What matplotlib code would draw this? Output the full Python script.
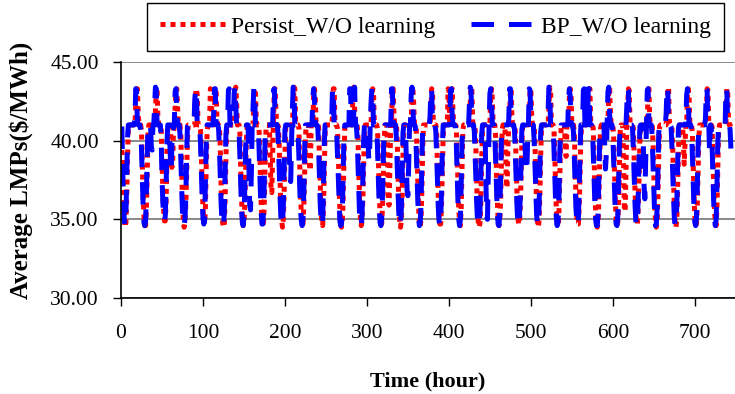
import matplotlib
matplotlib.use("Agg")
import matplotlib.pyplot as plt
import numpy as np

# hourly average LMPs ($/MWh), one row per day (24 hours), 31 days
bp_wo_learning = [
    [40.9, 38.4, 36.3, 34.9, 34.6, 35.3, 37.6, 40.2, 41.0, 41.0, 41.0, 41.0, 41.0, 41.0, 41.0, 41.0, 41.4, 43.3, 43.2, 41.1, 41.0, 41.0, 41.0, 40.7],
    [39.5, 37.6, 35.8, 34.8, 34.6, 34.9, 36.6, 39.1, 41.0, 41.0, 41.0, 41.0, 39.6, 39.4, 41.0, 41.0, 42.2, 43.4, 43.3, 41.0, 41.0, 41.0, 41.0, 41.0],
    [40.1, 37.7, 36.1, 35.3, 34.9, 35.2, 37.0, 39.7, 41.0, 41.0, 41.0, 39.2, 38.0, 39.5, 41.0, 40.8, 41.0, 43.1, 43.3, 41.9, 41.0, 41.0, 41.0, 40.4],
    [38.9, 37.0, 35.5, 34.7, 34.6, 35.0, 36.3, 38.8, 40.9, 41.0, 41.0, 41.0, 41.0, 41.0, 41.0, 41.0, 41.0, 42.6, 43.3, 43.1, 41.0, 41.0, 41.0, 40.9],
    [39.8, 38.0, 36.4, 35.1, 34.7, 34.9, 37.3, 39.9, 41.0, 41.0, 41.0, 41.0, 41.0, 41.0, 41.0, 41.0, 41.6, 43.3, 43.3, 41.2, 41.0, 41.0, 40.8, 39.6],
    [37.9, 36.2, 35.0, 34.6, 34.6, 35.4, 37.8, 40.4, 41.0, 41.0, 43.2, 43.3, 41.0, 41.0, 41.0, 41.0, 41.0, 43.0, 43.4, 42.3, 41.0, 41.0, 41.0, 40.6],
    [39.1, 37.3, 35.7, 34.8, 34.6, 35.1, 36.9, 39.4, 41.0, 41.0, 41.0, 38.3, 35.9, 35.6, 37.9, 41.0, 42.0, 43.3, 43.2, 41.0, 41.0, 41.0, 41.0, 40.2],
    [38.5, 36.8, 35.4, 34.7, 34.7, 35.6, 38.1, 40.6, 41.0, 41.0, 41.0, 41.0, 41.0, 41.0, 41.0, 41.0, 41.0, 43.2, 43.3, 41.5, 41.0, 41.0, 40.9, 39.9],
    [38.2, 36.5, 35.2, 34.6, 34.8, 35.8, 38.4, 40.7, 41.0, 41.0, 41.0, 41.0, 40.2, 37.6, 37.4, 39.8, 41.8, 43.4, 43.3, 41.0, 41.0, 41.0, 41.0, 40.5],
    [39.0, 37.1, 35.6, 34.9, 34.6, 35.0, 36.7, 39.3, 41.0, 41.0, 41.0, 41.0, 41.0, 41.0, 41.0, 41.0, 41.0, 42.8, 43.3, 42.6, 41.0, 41.0, 41.0, 40.9],
    [39.7, 37.9, 36.0, 35.0, 34.6, 34.9, 37.1, 39.8, 41.0, 41.0, 41.0, 41.0, 41.0, 41.0, 41.0, 41.0, 41.2, 43.3, 43.3, 41.0, 41.0, 41.0, 40.7, 39.2],
    [37.6, 36.0, 34.9, 34.6, 34.7, 35.5, 37.9, 40.3, 41.0, 41.0, 41.0, 41.0, 41.0, 41.0, 43.3, 43.3, 41.0, 41.0, 41.0, 41.8, 43.4, 41.0, 41.0, 40.3],
    [38.7, 36.9, 35.3, 34.7, 34.6, 35.2, 37.4, 40.0, 41.0, 41.0, 41.0, 41.0, 41.0, 39.0, 38.7, 41.0, 42.4, 43.3, 43.1, 41.0, 41.0, 41.0, 41.0, 40.8],
    [39.4, 37.5, 35.9, 34.8, 34.6, 35.0, 36.5, 38.9, 40.8, 41.0, 41.0, 41.0, 41.0, 41.0, 41.0, 41.0, 41.0, 43.3, 43.3, 41.3, 41.0, 41.0, 41.0, 40.1],
    [38.3, 36.6, 35.3, 34.6, 34.7, 35.7, 38.2, 40.5, 41.0, 41.0, 41.0, 38.9, 36.8, 36.5, 38.6, 41.0, 41.0, 42.9, 43.4, 42.2, 41.0, 41.0, 40.9, 39.7],
    [38.0, 36.3, 35.1, 34.6, 34.8, 35.9, 38.6, 40.8, 41.0, 41.0, 41.0, 41.0, 41.0, 41.0, 41.0, 41.0, 41.5, 43.3, 43.2, 41.0, 41.0, 41.0, 41.0, 40.6],
    [39.2, 37.4, 35.8, 34.9, 34.6, 35.1, 36.8, 39.5, 41.0, 41.0, 41.0, 41.0, 41.0, 41.0, 41.0, 41.0, 41.0, 43.2, 43.3, 41.6, 41.0, 41.0, 41.0, 40.9],
    [39.9, 38.1, 36.2, 35.0, 34.6, 35.0, 37.2, 39.9, 41.0, 41.0, 41.0, 41.0, 41.0, 41.0, 41.0, 41.0, 42.3, 43.4, 43.2, 41.0, 41.0, 41.0, 40.6, 39.0],
    [37.4, 35.9, 34.8, 34.6, 34.7, 35.6, 38.0, 40.4, 41.0, 41.0, 41.0, 41.0, 37.8, 35.2, 35.0, 37.6, 41.0, 43.0, 43.3, 42.4, 41.0, 41.0, 41.0, 40.4],
    [38.8, 37.0, 35.5, 34.7, 34.6, 35.3, 37.5, 40.1, 41.0, 41.0, 41.0, 41.0, 41.0, 41.0, 41.0, 41.0, 41.3, 43.3, 43.3, 41.1, 41.0, 41.0, 41.0, 40.7],
    [39.3, 37.5, 35.9, 34.8, 34.6, 35.0, 36.4, 38.7, 40.7, 41.0, 41.0, 41.0, 39.5, 38.1, 38.0, 39.9, 41.0, 43.3, 43.2, 41.4, 41.0, 41.0, 41.0, 40.0],
    [38.4, 36.7, 35.3, 34.6, 34.7, 35.8, 38.3, 40.6, 41.0, 41.0, 41.0, 41.0, 41.0, 41.0, 41.0, 41.0, 41.9, 43.4, 43.3, 41.0, 41.0, 41.0, 40.9, 39.8],
    [38.1, 36.4, 35.1, 34.6, 34.8, 35.7, 38.5, 40.7, 41.0, 41.0, 41.0, 41.0, 41.0, 41.0, 41.0, 41.0, 41.0, 42.7, 43.3, 42.8, 41.0, 41.0, 41.0, 40.5],
    [39.0, 37.2, 35.7, 34.9, 34.6, 35.1, 36.9, 39.4, 41.0, 41.0, 41.0, 43.2, 43.3, 41.0, 41.0, 41.0, 41.2, 43.3, 43.3, 41.0, 41.0, 41.0, 40.8, 39.4],
    [37.8, 36.1, 35.0, 34.6, 34.6, 35.4, 37.7, 40.2, 41.0, 41.0, 41.0, 41.0, 41.0, 39.8, 38.2, 39.1, 41.0, 43.1, 43.4, 41.7, 41.0, 41.0, 41.0, 40.3],
    [38.6, 36.8, 35.4, 34.7, 34.6, 35.2, 37.3, 39.8, 41.0, 41.0, 41.0, 41.0, 41.0, 41.0, 41.0, 41.0, 42.1, 43.3, 43.2, 41.0, 41.0, 41.0, 41.0, 40.8],
    [39.5, 37.7, 36.0, 34.9, 34.6, 34.9, 36.6, 39.0, 40.9, 41.0, 41.0, 41.0, 40.4, 37.2, 36.3, 38.8, 41.0, 43.2, 43.3, 41.2, 41.0, 41.0, 41.0, 40.2],
    [38.5, 36.7, 35.3, 34.6, 34.7, 35.7, 38.2, 40.5, 41.0, 41.0, 41.0, 41.0, 41.0, 41.0, 41.0, 41.0, 41.7, 43.4, 43.3, 41.0, 41.0, 41.0, 40.9, 39.7],
    [38.0, 36.4, 35.1, 34.6, 34.8, 35.9, 38.5, 40.8, 41.0, 41.0, 41.0, 41.0, 41.0, 41.0, 41.0, 41.0, 41.0, 42.9, 43.3, 42.5, 41.0, 41.0, 41.0, 40.6],
    [39.1, 37.3, 35.7, 34.8, 34.6, 35.1, 37.0, 39.6, 41.0, 41.0, 41.0, 41.0, 41.0, 41.0, 41.0, 41.0, 41.4, 43.3, 43.2, 41.0, 41.0, 39.3, 41.0, 40.9],
    [39.8, 37.9, 36.1, 35.0, 34.6, 35.0, 37.1, 39.8, 41.0, 41.0, 41.0, 41.0, 41.0, 41.0, 41.0, 41.0, 41.0, 43.3, 43.3, 41.3, 41.0, 41.0, 40.7, 39.5],
]

persist_wo_learning = [
    [39.4, 38.9, 37.0, 35.5, 34.5, 34.8, 36.4, 39.0, 40.8, 41.0, 41.0, 41.0, 41.0, 41.0, 41.0, 41.0, 41.0, 42.3, 43.3, 43.3, 41.7, 41.0, 41.0, 41.0],
    [40.6, 38.6, 36.5, 35.2, 34.6, 34.6, 35.7, 38.0, 40.4, 41.0, 41.0, 41.0, 41.0, 41.0, 41.0, 41.0, 41.0, 41.8, 43.3, 43.4, 41.5, 41.0, 41.0, 41.0],
    [40.9, 38.9, 36.9, 35.6, 34.9, 34.9, 36.1, 38.6, 40.7, 41.0, 41.0, 41.0, 40.1, 38.3, 38.6, 40.5, 40.9, 42.0, 43.2, 43.3, 42.2, 41.0, 41.0, 41.0],
    [40.3, 38.1, 36.2, 35.0, 34.5, 34.7, 35.9, 37.6, 40.0, 41.0, 41.0, 41.0, 41.0, 41.0, 41.0, 41.0, 41.0, 41.0, 43.0, 43.3, 42.9, 41.0, 41.0, 41.0],
    [40.7, 39.0, 37.1, 35.7, 34.8, 34.7, 35.8, 38.4, 40.5, 41.0, 41.0, 41.0, 43.3, 43.2, 41.0, 41.0, 41.0, 41.9, 43.3, 43.3, 41.4, 41.0, 41.0, 40.9],
    [39.8, 37.4, 35.8, 34.8, 34.5, 34.7, 36.2, 38.9, 40.8, 41.0, 41.0, 41.0, 41.0, 41.0, 41.0, 41.0, 41.0, 41.0, 43.2, 43.4, 42.5, 41.0, 41.0, 41.0],
    [40.5, 38.3, 36.4, 35.2, 34.6, 34.8, 35.9, 37.9, 40.1, 41.0, 41.0, 41.0, 41.0, 41.0, 41.0, 41.0, 41.0, 42.2, 43.3, 43.2, 41.3, 41.0, 41.0, 41.0],
    [40.1, 37.9, 36.0, 35.0, 34.5, 34.9, 36.4, 39.0, 40.9, 41.0, 41.0, 41.0, 41.0, 39.0, 36.9, 36.7, 39.2, 41.2, 43.3, 43.3, 41.8, 41.0, 41.0, 40.9],
    [39.7, 37.6, 35.9, 34.9, 34.5, 35.0, 36.7, 39.2, 40.9, 41.0, 41.0, 41.0, 41.0, 41.0, 41.0, 41.0, 41.0, 42.0, 43.4, 43.3, 41.2, 41.0, 41.0, 41.0],
    [40.8, 38.5, 36.6, 35.3, 34.7, 34.7, 35.8, 37.8, 40.2, 41.0, 41.0, 41.0, 41.0, 38.4, 38.1, 41.0, 41.0, 41.0, 42.9, 43.3, 42.7, 41.0, 41.0, 41.0],
    [40.9, 39.1, 37.2, 35.6, 34.8, 34.6, 35.7, 38.2, 40.5, 41.0, 41.0, 41.0, 41.0, 41.0, 41.0, 41.0, 41.0, 41.5, 43.3, 43.3, 41.2, 41.0, 41.0, 40.8],
    [39.5, 37.2, 35.6, 34.7, 34.5, 34.8, 36.3, 38.8, 40.8, 41.0, 41.0, 41.0, 41.0, 41.0, 41.0, 41.0, 41.0, 41.0, 43.2, 43.4, 42.0, 41.0, 41.0, 41.0],
    [40.4, 38.2, 36.3, 35.1, 34.6, 34.9, 36.2, 38.5, 40.6, 41.0, 41.0, 41.0, 41.0, 41.0, 41.0, 41.0, 41.0, 42.5, 43.3, 43.2, 41.1, 41.0, 41.0, 41.0],
    [40.7, 38.8, 36.8, 35.4, 34.7, 34.7, 35.8, 37.7, 39.9, 41.0, 41.0, 41.0, 39.7, 36.4, 35.9, 38.2, 41.0, 41.2, 43.3, 43.3, 41.5, 41.0, 41.0, 41.0],
    [39.9, 37.8, 35.9, 34.9, 34.5, 34.9, 36.5, 39.1, 40.9, 41.0, 41.0, 41.0, 41.0, 41.0, 41.0, 41.0, 41.0, 41.0, 43.0, 43.4, 42.4, 41.0, 41.0, 40.9],
    [39.6, 37.5, 35.8, 34.8, 34.5, 35.0, 36.8, 39.3, 41.0, 41.0, 41.0, 41.0, 41.0, 41.0, 41.0, 41.0, 41.0, 41.7, 43.3, 43.2, 41.1, 41.0, 41.0, 41.0],
    [40.6, 38.4, 36.5, 35.2, 34.7, 34.7, 35.9, 38.0, 40.3, 41.0, 41.0, 41.0, 41.0, 41.0, 43.3, 43.2, 41.0, 41.0, 43.2, 43.3, 41.8, 41.0, 41.0, 41.0],
    [40.9, 39.2, 37.3, 35.7, 34.8, 34.6, 35.8, 38.3, 40.6, 41.0, 41.0, 41.0, 41.0, 41.0, 41.0, 41.0, 41.0, 42.4, 43.4, 43.2, 41.2, 41.0, 41.0, 40.7],
    [39.3, 37.1, 35.5, 34.7, 34.5, 34.8, 36.2, 38.7, 40.7, 41.0, 41.0, 41.0, 41.0, 41.0, 41.0, 41.0, 41.0, 41.0, 42.9, 43.3, 42.6, 41.0, 41.0, 41.0],
    [40.3, 38.0, 36.2, 35.1, 34.6, 34.8, 36.0, 38.4, 40.7, 41.0, 41.0, 41.0, 40.2, 37.3, 37.0, 39.6, 41.0, 41.4, 43.3, 43.3, 41.3, 41.0, 41.0, 41.0],
    [40.6, 38.7, 36.7, 35.3, 34.7, 34.7, 35.7, 37.6, 39.8, 41.0, 41.0, 41.0, 41.0, 41.0, 41.0, 41.0, 41.0, 41.1, 43.3, 43.2, 41.6, 41.0, 41.0, 41.0],
    [39.8, 37.7, 35.9, 34.9, 34.5, 34.9, 36.6, 39.1, 40.9, 41.0, 41.0, 41.0, 41.0, 41.0, 41.0, 41.0, 41.0, 42.1, 43.4, 43.3, 41.1, 41.0, 41.0, 40.9],
    [39.5, 37.4, 35.7, 34.8, 34.5, 35.0, 36.9, 39.4, 41.0, 41.0, 41.0, 41.0, 41.0, 39.4, 39.0, 41.0, 41.0, 41.0, 42.8, 43.3, 43.0, 41.0, 41.0, 41.0],
    [40.5, 38.3, 36.4, 35.2, 34.7, 34.7, 35.9, 37.9, 40.2, 41.0, 41.0, 41.0, 41.0, 41.0, 41.0, 41.0, 41.0, 41.3, 43.3, 43.3, 41.2, 41.0, 41.0, 40.8],
    [39.2, 37.0, 35.5, 34.7, 34.5, 34.8, 36.3, 38.8, 40.8, 41.0, 41.0, 41.0, 41.0, 41.0, 41.0, 41.0, 41.0, 41.0, 43.2, 43.4, 41.9, 41.0, 41.0, 41.0],
    [40.2, 38.1, 36.2, 35.0, 34.6, 34.8, 36.1, 38.3, 40.6, 41.0, 41.0, 41.0, 38.7, 35.8, 35.5, 38.0, 41.0, 42.2, 43.3, 43.2, 41.1, 41.0, 41.0, 41.0],
    [40.8, 38.9, 36.9, 35.4, 34.7, 34.7, 35.8, 37.7, 40.0, 41.0, 41.0, 41.0, 41.0, 41.0, 41.0, 41.0, 41.0, 41.1, 43.3, 43.3, 41.4, 41.0, 41.0, 41.0],
    [39.9, 37.8, 35.9, 34.9, 34.5, 34.9, 36.5, 39.0, 40.9, 41.0, 41.0, 41.0, 41.0, 41.0, 41.0, 41.0, 41.0, 41.9, 43.4, 43.3, 41.1, 41.0, 41.0, 40.9],
    [39.6, 37.5, 35.8, 34.8, 34.5, 35.0, 36.8, 39.3, 41.0, 41.0, 41.0, 41.0, 41.0, 40.0, 38.5, 39.7, 41.0, 41.0, 43.0, 43.3, 42.7, 41.0, 41.0, 41.0],
    [40.5, 38.4, 36.5, 35.2, 34.6, 34.7, 35.9, 38.0, 40.3, 41.0, 41.0, 41.0, 41.0, 41.0, 41.0, 41.0, 41.0, 41.5, 43.3, 43.2, 41.2, 41.0, 41.0, 41.0],
    [40.9, 39.0, 37.1, 35.6, 34.8, 34.6, 35.8, 38.2, 40.5, 41.0, 41.0, 41.0, 41.0, 41.0, 41.0, 41.0, 41.0, 41.0, 43.3, 43.3, 41.5, 41.0, 41.0, 40.8],
]

y_ticks = [30, 35, 40, 45]
x_ticks = [0, 100, 200, 300, 400, 500, 600, 700]

bp = np.array(bp_wo_learning).ravel()
persist = np.array(persist_wo_learning).ravel()
hours = np.arange(1, len(bp) + 1)

plt.rcParams['font.family'] = 'Liberation Serif'

fig = plt.figure(figsize=(7.35, 3.94), dpi=100)
ax = fig.add_axes([121 / 735, 1 - 298 / 394, 614 / 735, 236 / 394])

l1, = ax.plot(hours, persist, color='#FF0000', lw=3.6, linestyle=(0, (1, 1)),
              dash_capstyle='butt', label='Persist_W/O learning')
l2, = ax.plot(hours, bp, color='#0000FF', lw=3.6, linestyle=(0, (4.5, 3)),
              dash_capstyle='butt', label='BP_W/O learning')

ax.set_xlim(0, 749)
ax.set_ylim(30, 45)
ax.set_yticks(y_ticks)
ax.set_yticklabels([f'{v:.2f}' for v in y_ticks])
ax.set_xticks(x_ticks)
ax.grid(axis='y', color='#808080', lw=1.3)
ax.set_axisbelow(True)
for s in ['top', 'right']:
    ax.spines[s].set_visible(False)
for s in ['left', 'bottom']:
    ax.spines[s].set_color('black')
    ax.spines[s].set_linewidth(1.2)
ax.tick_params(axis='both', direction='out', length=6, width=1, labelsize=15.5)
ax.tick_params(axis='y', pad=10)
ax.tick_params(axis='x', pad=13)

ax.set_xlabel('Time (hour)', fontsize=16, fontweight='bold', labelpad=20)
ax.set_ylabel('Average LMPs($/MWh)', fontsize=18, fontweight='bold')
ax.yaxis.set_label_coords(-0.143, 0.54)

leg = fig.legend(handles=[l1, l2], loc='upper left', bbox_to_anchor=(147 / 735, 1 - 3 / 394),
                 ncol=2, fontsize=17, frameon=True, fancybox=False, framealpha=1,
                 edgecolor='black', handlelength=2.8, handletextpad=0.2,
                 columnspacing=1.5, borderpad=0.55, borderaxespad=0)
leg.get_frame().set_linewidth(1.0)

fig.savefig('out.png', dpi=100)
